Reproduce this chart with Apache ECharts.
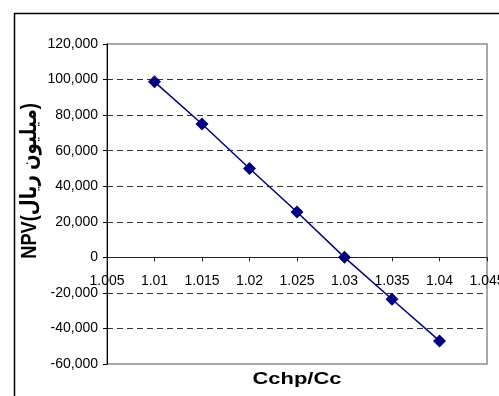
<!DOCTYPE html>
<html>
<head>
<meta charset="utf-8">
<script src="https://cdn.jsdelivr.net/npm/echarts@6/dist/echarts.min.js"></script>
<style>
  html, body { margin: 0; padding: 0; background: #fff; }
  #chart { width: 499px; height: 396px; }
</style>
</head>
<body>
<div id="chart"></div>
<script>
const xValues = [1.01, 1.015, 1.02, 1.025, 1.03, 1.035, 1.04];
const npvValues = [98700, 75000, 50000, 25500, 0, -23600, -47000];
const xTitle = "Cchp/Cc";
const yTitle = "NPV(میلیون ریال)";

const font = "Arial, 'Liberation Sans', 'DejaVu Sans', sans-serif";
const chart = echarts.init(document.getElementById("chart"), null, { renderer: "canvas" });

// grid box: x 107..487, y 44..364 ; zero line sits 2/3 of the way down
const gridTop = 44, gridH = 320;
const yMin = -60000, yMax = 120000;
const zeroOffset = gridH * (0 - yMin) / (yMax - yMin);

const option = {
  backgroundColor: "#fff",
  animation: false,
  textStyle: { fontFamily: font, color: "#000" },
  grid: {
    left: 107,
    top: gridTop,
    right: 12,
    bottom: 396 - gridTop - gridH,
    containLabel: false,
    outerBoundsMode: "none",
    show: true,
    borderColor: "#8c8c8c",
    borderWidth: 1.5,
    backgroundColor: "transparent",
  },
  graphic: [
    {
      type: "rect",
      left: 12,
      top: 11,
      shape: { width: 700, height: 600 },
      style: { fill: "none", stroke: "#000", lineWidth: 1.5 },
      silent: true,
    },
    {
      type: "text",
      x: 297,
      y: 379,
      scaleX: 1.29,
      style: {
        text: xTitle,
        font: "bold 17px " + font,
        fill: "#000",
        align: "center",
        verticalAlign: "middle",
      },
    },
    {
      type: "text",
      x: 30,
      y: 181,
      rotation: Math.PI / 2,
      scaleX: 0.83,
      style: {
        text: yTitle,
        font: "bold 22px " + font,
        fill: "#000",
        align: "center",
        verticalAlign: "middle",
      },
    },
  ],
  xAxis: {
    type: "value",
    min: 1.005,
    max: 1.045,
    interval: 0.005,
    position: "bottom",
    offset: -zeroOffset,
    axisLine: { onZero: false, lineStyle: { color: "#222", width: 1 } },
    axisTick: { show: true, length: 4, lineStyle: { color: "#222" } },
    splitLine: { show: false },
    axisLabel: {
      color: "#000",
      fontSize: 14,
      margin: 17,
      showMinLabel: true,
      showMaxLabel: true,
      alignMinLabel: "center",
      alignMaxLabel: "center",
      formatter: (v) => String(+v.toFixed(3)),
    },
  },
  yAxis: {
    type: "value",
    min: yMin,
    max: yMax,
    interval: 20000,
    axisLine: { show: true, lineStyle: { color: "#000", width: 1 } },
    axisTick: { show: true, length: 4, lineStyle: { color: "#000" } },
    axisLabel: {
      color: "#000",
      fontSize: 14,
      margin: 9,
      formatter: (v) => v.toLocaleString("en-US"),
    },
    splitLine: {
      show: true,
      showMinLine: false,
      showMaxLine: false,
      lineStyle: { color: "#333", type: [6, 4], width: 1 },
    },
  },
  series: [
    {
      type: "line",
      data: xValues.map((x, i) => [x, npvValues[i]]),
      symbol: "diamond",
      symbolSize: 13,
      itemStyle: { color: "#000080" },
      lineStyle: { color: "#000080", width: 1.5 },
    },
  ],
};
chart.setOption(option);
</script>
</body>
</html>
